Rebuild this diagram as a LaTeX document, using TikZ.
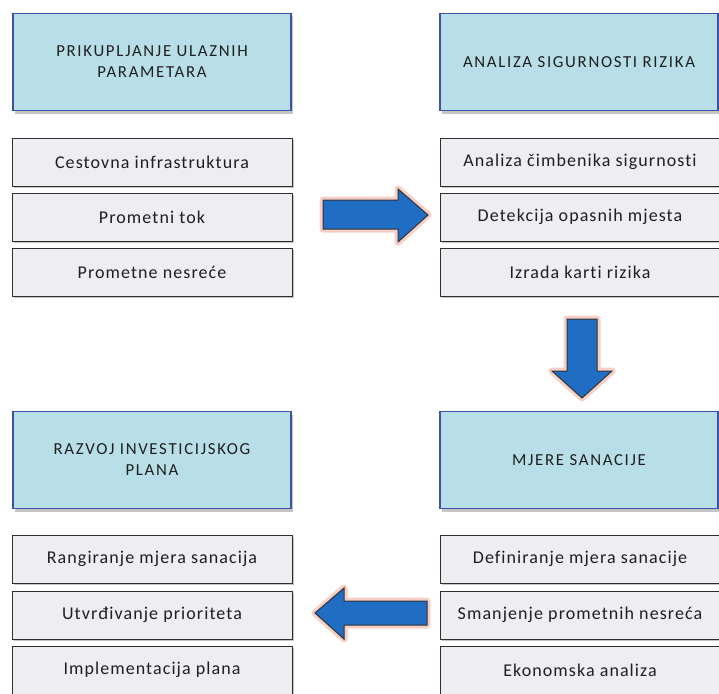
\documentclass[tikz,border=0pt]{standalone}
\usepackage{fontspec}
\setmainfont{Carlito}
\newfontfamily\itemfont[LetterSpace=6, Ligatures={NoCommon}, RawFeature={-liga}]{Carlito}
\newfontfamily\hdrfont[LetterSpace=10, Ligatures={NoCommon}, RawFeature={-liga}]{Carlito}
\usetikzlibrary{shadows}
\definecolor{hdrfill}{HTML}{B8DEE8}
\definecolor{hdrdraw}{HTML}{3F51A0}
\definecolor{itemfill}{HTML}{EEEEF2}
\definecolor{itemdraw}{HTML}{2E2E2E}
\definecolor{arrfill}{HTML}{1F6EC4}
\definecolor{glow}{HTML}{F0B0A0}
\tikzset{
  hdr/.style={draw=hdrdraw, line width=1.2pt, fill=hdrfill, minimum width=278pt, minimum height=97pt, inner sep=0pt, align=center, font=\hdrfont\fontsize{16.8}{21}\selectfont, text=black!88, drop shadow={shadow xshift=2pt, shadow yshift=-3pt, fill=black!45, opacity=0.5}},
  item/.style={draw=itemdraw, line width=1pt, fill=itemfill, minimum width=280pt, minimum height=48pt, inner sep=0pt, align=center, font=\itemfont\fontsize{18}{22}\selectfont, text=black!88, drop shadow={shadow xshift=2pt, shadow yshift=-2pt, fill=black!45, opacity=0.5}},
  arr/.style={fill=arrfill, draw=black!80, line width=1pt, line join=miter},
  arrglow/.style={draw=glow, line width=7pt, opacity=0.6, line join=round}
}
\begin{document}
\begin{tikzpicture}[x=1pt, y=-1pt]
\useasboundingbox (0,0) rectangle (719,693);
% headers
\node[hdr] (h1) at (152,62) {PRIKUPLJANJE ULAZNIH\\PARAMETARA};
\node[hdr] (h2) at (579,62) {ANALIZA SIGURNOSTI RIZIKA};
\node[hdr] (h3) at (152,460) {RAZVOJ INVESTICIJSKOG\\PLANA};
\node[hdr] (h4) at (579,460) {MJERE SANACIJE};
% items left top
\node[item] (a1) at (152,162) {Cestovna infrastruktura};
\node[item] (a2) at (152,217) {Prometni tok};
\node[item] (a3) at (152,272) {Prometne nesreće};
% items right top
\node[item] (b1) at (580,162) {Analiza čimbenika sigurnosti};
\node[item] (b2) at (580,217) {Detekcija opasnih mjesta};
\node[item] (b3) at (580,272) {Izrada karti rizika};
% items left bottom
\node[item] (c1) at (152,559) {Rangiranje mjera sanacija};
\node[item] (c2) at (152,615) {Utvrđivanje prioriteta};
\node[item] (c3) at (152,670) {Implementacija plana};
% items right bottom
\node[item] (d1) at (580,559) {Definiranje mjera sanacije};
\node[item] (d2) at (580,615) {Smanjenje prometnih nesreća};
\node[item] (d3) at (580,670) {Ekonomska analiza};
% right arrow
\path[arrglow] (323,200) -- (398,200) -- (398,189) -- (428,215) -- (398,242) -- (398,229) -- (323,229) -- cycle;
\path[arr] (323,200) -- (398,200) -- (398,189) -- (428,215) -- (398,242) -- (398,229) -- (323,229) -- cycle;
% down arrow
\path[arrglow] (567,319) -- (597,319) -- (597,371) -- (612,371) -- (582,398) -- (552,371) -- (567,371) -- cycle;
\path[arr] (567,319) -- (597,319) -- (597,371) -- (612,371) -- (582,398) -- (552,371) -- (567,371) -- cycle;
% left arrow
\path[arrglow] (427,601) -- (344,601) -- (344,588) -- (315,613) -- (344,639) -- (344,625) -- (427,625) -- cycle;
\path[arr] (427,601) -- (344,601) -- (344,588) -- (315,613) -- (344,639) -- (344,625) -- (427,625) -- cycle;
\end{tikzpicture}
\end{document}
